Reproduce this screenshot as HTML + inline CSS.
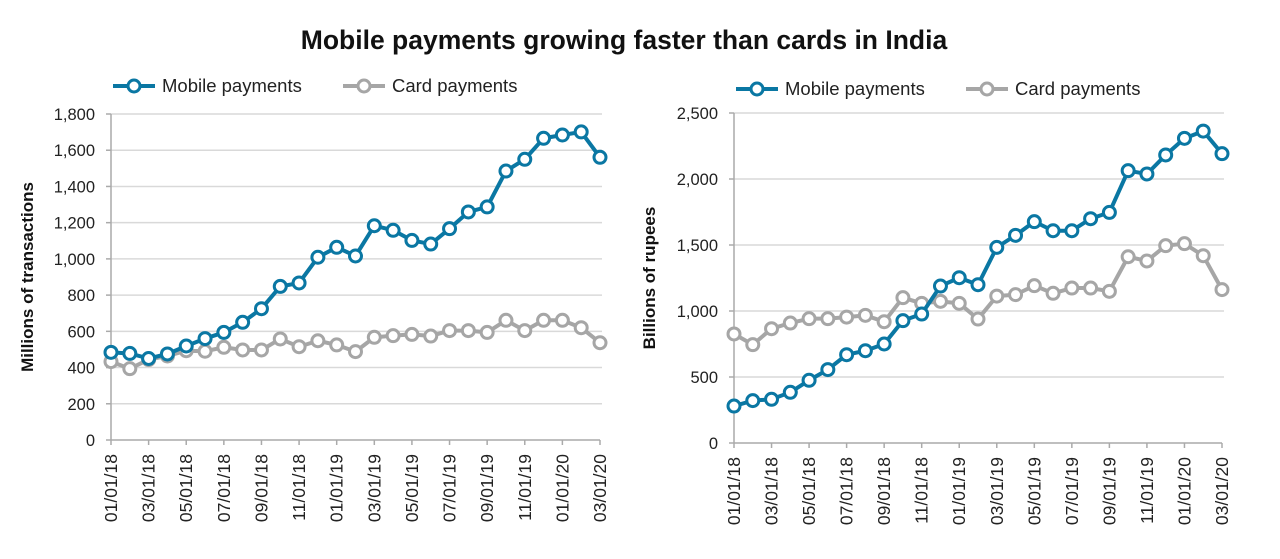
<!DOCTYPE html>
<html><head><meta charset="utf-8"><style>
body{margin:0;background:#fff;width:1280px;height:554px;overflow:hidden;font-family:"Liberation Sans",sans-serif}
</style></head><body>
<svg id="s" width="1280" height="554" xmlns="http://www.w3.org/2000/svg" font-family="Liberation Sans, sans-serif">
<text x="624" y="49" text-anchor="middle" font-size="26.5" font-weight="bold" fill="#111">Mobile payments growing faster than cards in India</text>
</svg>
<script>
const months=["01/01/18","02/01/18","03/01/18","04/01/18","05/01/18","06/01/18","07/01/18","08/01/18","09/01/18","10/01/18","11/01/18","12/01/18","01/01/19","02/01/19","03/01/19","04/01/19","05/01/19","06/01/19","07/01/19","08/01/19","09/01/19","10/01/19","11/01/19","12/01/19","01/01/20","02/01/20","03/01/20"];
const leftMobile=[484,478,450,475,519,560,594,650,725,848,867,1009,1064,1016,1183,1158,1102,1082,1167,1259,1287,1485,1550,1666,1684,1701,1561];
const leftCard=[433,394,444,464,493,490,512,497,497,558,515,548,525,488,567,576,583,574,604,604,594,661,604,661,661,620,537];
const rightMobile=[280,321,331,384,475,556,669,699,750,927,977,1189,1252,1199,1482,1573,1677,1608,1608,1699,1747,2063,2038,2182,2308,2363,2192];
const rightCard=[826,745,866,909,942,942,954,967,919,1101,1058,1073,1058,939,1113,1124,1192,1134,1174,1174,1149,1411,1379,1495,1510,1419,1162];
const leftTicks=[0,200,400,600,800,1000,1200,1400,1600,1800];
const rightTicks=[0,500,1000,1500,2000,2500];
const NS="http://www.w3.org/2000/svg";
const svg=document.getElementById('s');
function mk(tag,attrs,parent){const e=document.createElementNS(NS,tag);for(const k in attrs)e.setAttribute(k,attrs[k]);(parent||svg).appendChild(e);return e;}
function chart(cfg){
  const g=mk('g',{});
  
  
  const xs=i=>cfg.x0+(cfg.x1-cfg.x0)*i/(months.length-1);
  const ys=v=>cfg.y0-(cfg.y0-cfg.y1)*v/cfg.max;
  cfg.ticks.forEach(t=>{
    if(t>0){const l=mk('line',{x1:cfg.x0,x2:cfg.x1+2,y1:ys(t),y2:ys(t),stroke:'#d9d9d9','stroke-width':1.5},g);
    }
    const tx=mk('text',{x:cfg.x0-16,y:ys(t)+6,'text-anchor':'end','font-size':16.5,fill:'#222'},g);
    
    tx.textContent=t.toLocaleString('en-US');
    mk('line',{x1:cfg.x0-5,x2:cfg.x0,y1:ys(t),y2:ys(t),stroke:'#aaa','stroke-width':1.5},g);
  });
  const ax=mk('line',{x1:cfg.x0,x2:cfg.x0,y1:cfg.y0,y2:cfg.y1,stroke:'#aaa','stroke-width':1.5},g);
  
  const bx=mk('line',{x1:cfg.x0,x2:cfg.x1,y1:cfg.y0,y2:cfg.y0,stroke:'#aaa','stroke-width':1.5},g);
  
  months.forEach((m,i)=>{
    if(i%2)return;
    mk('line',{x1:xs(i),x2:xs(i),y1:cfg.y0,y2:cfg.y0+5,stroke:'#aaa','stroke-width':1.5},g);
    const tx=mk('text',{x:0,y:0,'text-anchor':'end','font-size':17.5,fill:'#222',transform:`translate(${xs(i)+6},${cfg.y0+14}) rotate(-90)`},g);
    
    tx.textContent=m;
  });
  const yt=mk('text',{x:0,y:0,'text-anchor':'middle','font-size':17,'font-weight':'bold',fill:'#111',transform:`translate(${cfg.titleX},${(cfg.y0+cfg.y1)/2}) rotate(-90)`},g);
  
  yt.textContent=cfg.title;
  [[cfg.card,'#a6a6a6','card-payments-series'],[cfg.mobile,'#0a77a3','mobile-payments-series']].forEach(([d,c,n])=>{
    const sg=mk('g',{},g);
    
    mk('polyline',{points:d.map((v,i)=>xs(i)+','+ys(v)).join(' '),fill:'none',stroke:c,'stroke-width':4,'stroke-linejoin':'round'},sg);
    d.forEach((v,i)=>{const p=mk('circle',{cx:xs(i),cy:ys(v),r:6,fill:'#fff',stroke:c,'stroke-width':3},sg);
      });
  });
  [[cfg.lx,'#0a77a3','Mobile payments','legend-mobile'],[cfg.lx+230,'#a6a6a6','Card payments','legend-card']].forEach(([x,c,t,n])=>{
    const lg=mk('g',{},g);
    
    mk('line',{x1:x,x2:x+42,y1:cfg.ly,y2:cfg.ly,stroke:c,'stroke-width':4},lg);
    mk('circle',{cx:x+21,cy:cfg.ly,r:6,fill:'#fff',stroke:c,'stroke-width':3},lg);
    const tx=mk('text',{x:x+49,y:cfg.ly+6,'font-size':18.5,fill:'#222'},lg);tx.textContent=t;
  });
}
chart({name:'left-chart-transactions',x0:111,x1:600,y0:440,y1:114,max:1800,ticks:leftTicks,mobile:leftMobile,card:leftCard,title:'Millions of transactions',titleX:33,lx:113,ly:86});
chart({name:'right-chart-rupees',x0:734,x1:1222,y0:443,y1:113,max:2500,ticks:rightTicks,mobile:rightMobile,card:rightCard,title:'Billions of rupees',titleX:655,lx:736,ly:89});
</script>
</body></html>
